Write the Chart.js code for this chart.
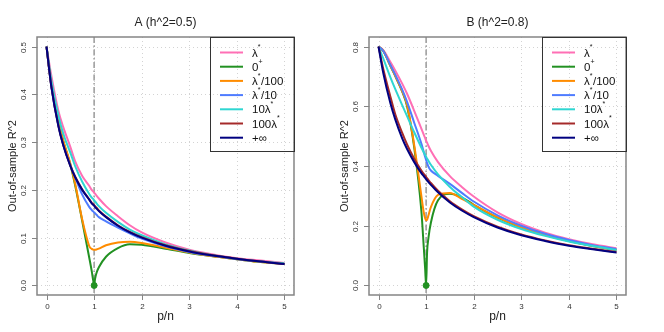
<!DOCTYPE html>
<html>
<head>
<meta charset="utf-8">
<script src="https://cdn.jsdelivr.net/npm/chart.js@4"></script>
<style>
  body { margin: 0; background: #fff; }
  .wrap { display: flex; width: 664px; height: 332px; }
  canvas { display: block; }
</style>
</head>
<body>
<div class="wrap">
  <canvas id="chartA" width="332" height="332"></canvas>
  <canvas id="chartB" width="332" height="332"></canvas>
</div>
<script>
const ratio = [0, 0.1, 0.25, 0.35, 0.5, 0.6, 0.75, 0.9, 0.95, 0.98, 1, 1.02, 1.05, 1.1, 1.25, 1.5, 1.75, 2, 2.5, 3, 3.5, 4, 4.5, 5];
const xTicks = [0, 1, 2, 3, 4, 5];
const threshold = 1;

// panel A (h^2 = 0.5)
const optA = [0.5, 0.44, 0.365, 0.332, 0.29, 0.26, 0.229, 0.208, 0.2, 0.197, 0.194, 0.192, 0.188, 0.182, 0.166, 0.145, 0.126, 0.111, 0.09, 0.075, 0.065, 0.057, 0.052, 0.047];
const zeroA = [0.5, 0.42, 0.345, 0.303, 0.253, 0.21, 0.135, 0.057, 0.03, 0.011, 0, 0.014, 0.026, 0.038, 0.06, 0.078, 0.086, 0.085, 0.077, 0.068, 0.061, 0.055, 0.049, 0.045];
const hundredthA = [0.5, 0.42, 0.345, 0.304, 0.255, 0.214, 0.138, 0.082, 0.0765, 0.075, 0.0748, 0.0748, 0.0752, 0.077, 0.084, 0.09, 0.0915, 0.089, 0.079, 0.069, 0.061, 0.055, 0.049, 0.045];
const tenthA = [0.5, 0.418, 0.335, 0.295, 0.252, 0.227, 0.19, 0.164, 0.158, 0.155, 0.153, 0.151, 0.148, 0.143, 0.134, 0.121, 0.109, 0.098, 0.082, 0.07, 0.062, 0.055, 0.05, 0.045];
const tenfoldA = [0.5, 0.43, 0.355, 0.318, 0.278, 0.25, 0.217, 0.191, 0.184, 0.181, 0.178, 0.176, 0.172, 0.166, 0.152, 0.133, 0.117, 0.105, 0.086, 0.073, 0.063, 0.056, 0.05, 0.046];
const hundredfoldA = [0.5, 0.418, 0.334, 0.295, 0.251, 0.228, 0.201, 0.18, 0.173, 0.17, 0.168, 0.166, 0.163, 0.157, 0.144, 0.126, 0.112, 0.101, 0.084, 0.072, 0.063, 0.056, 0.05, 0.045];
const infA = [0.5, 0.417, 0.333, 0.294, 0.25, 0.227, 0.2, 0.179, 0.172, 0.169, 0.167, 0.164, 0.161, 0.156, 0.143, 0.125, 0.111, 0.1, 0.083, 0.071, 0.0625, 0.056, 0.05, 0.045];
const yTicksA = [0, 0.1, 0.2, 0.3, 0.4, 0.5];

// panel B (h^2 = 0.8)
const optB = [0.8, 0.788, 0.748, 0.72, 0.675, 0.642, 0.585, 0.525, 0.505, 0.493, 0.485, 0.478, 0.467, 0.451, 0.413, 0.366, 0.33, 0.298, 0.245, 0.206, 0.177, 0.155, 0.138, 0.125];
const zeroB = [0.8, 0.785, 0.735, 0.702, 0.648, 0.6, 0.462, 0.25, 0.13, 0.055, 0, 0.11, 0.16, 0.21, 0.285, 0.307, 0.295, 0.27, 0.227, 0.194, 0.169, 0.149, 0.132, 0.119];
const hundredthB = [0.8, 0.785, 0.736, 0.703, 0.65, 0.605, 0.47, 0.3, 0.245, 0.225, 0.218, 0.22, 0.235, 0.262, 0.303, 0.31, 0.29, 0.27, 0.228, 0.195, 0.17, 0.15, 0.133, 0.12];
const tenthB = [0.8, 0.785, 0.738, 0.706, 0.655, 0.615, 0.545, 0.475, 0.447, 0.43, 0.42, 0.41, 0.397, 0.385, 0.367, 0.34, 0.31, 0.281, 0.235, 0.2, 0.173, 0.152, 0.135, 0.122];
const tenfoldB = [0.8, 0.76, 0.697, 0.658, 0.603, 0.567, 0.513, 0.462, 0.446, 0.437, 0.431, 0.425, 0.417, 0.404, 0.372, 0.33, 0.296, 0.264, 0.22, 0.189, 0.166, 0.147, 0.132, 0.119];
const hundredfoldB = [0.8, 0.725, 0.632, 0.574, 0.51, 0.472, 0.424, 0.385, 0.374, 0.368, 0.363, 0.359, 0.353, 0.343, 0.317, 0.282, 0.255, 0.232, 0.197, 0.171, 0.151, 0.135, 0.123, 0.112];
const infB = [0.8, 0.711, 0.61, 0.557, 0.492, 0.457, 0.413, 0.376, 0.366, 0.36, 0.356, 0.352, 0.346, 0.337, 0.312, 0.278, 0.251, 0.229, 0.194, 0.168, 0.149, 0.133, 0.121, 0.11];
const yTicksB = [0, 0.2, 0.4, 0.6, 0.8];

// legend labels: pieces of [text, superscript?]
const legendLabels = [
  [["λ"], ["*", 1]],
  [["0"], ["+", 1]],
  [["λ"], ["*", 1], ["/100"]],
  [["λ"], ["*", 1], ["/10"]],
  [["10λ"], ["*", 1]],
  [["100λ"], ["*", 1]],
  [["+∞"]],
];
const colors = ["#ff6fb5", "#229122", "#ff8c00", "#4f7cff", "#2fd6d2", "#a52a2a", "#000080"];

const FONT = '"Liberation Sans", Arial, sans-serif';

const rAxes = {
  id: "rAxes",
  beforeDatasetsDraw(chart, args, opts) {
    const { ctx, chartArea: a, scales: { x, y } } = chart;
    ctx.save();
    ctx.strokeStyle = "#d3d3d3";
    ctx.lineWidth = 1;
    ctx.setLineDash([1, 3]);
    xTicks.forEach((v) => {
      const px = Math.round(x.getPixelForValue(v)) + 0.5;
      ctx.beginPath(); ctx.moveTo(px, a.top); ctx.lineTo(px, a.bottom); ctx.stroke();
    });
    opts.yTicks.forEach((v) => {
      const py = Math.round(y.getPixelForValue(v)) + 0.5;
      ctx.beginPath(); ctx.moveTo(a.left, py); ctx.lineTo(a.right, py); ctx.stroke();
    });
    // dash-dot line at p/n = 1
    const px = x.getPixelForValue(threshold);
    ctx.strokeStyle = "#9a9a9a";
    ctx.lineWidth = 1.5;
    ctx.setLineDash([6, 2.5, 1.5, 2.5]);
    ctx.beginPath(); ctx.moveTo(px, a.top); ctx.lineTo(px, a.bottom); ctx.stroke();
    ctx.restore();
  },
  afterDraw(chart, args, opts) {
    const { ctx, chartArea: a, scales: { x, y } } = chart;
    ctx.save();
    // frame
    ctx.strokeStyle = "#858585";
    ctx.lineWidth = 1.5;
    ctx.strokeRect(a.left, a.top, a.right - a.left, a.bottom - a.top);
    // ticks
    ctx.lineWidth = 1;
    ctx.fillStyle = "#333";
    ctx.font = "8px " + FONT;
    ctx.textAlign = "center";
    ctx.textBaseline = "middle";
    xTicks.forEach((v) => {
      const px = Math.round(x.getPixelForValue(v)) + 0.5;
      ctx.beginPath(); ctx.moveTo(px, a.bottom); ctx.lineTo(px, a.bottom + 5); ctx.stroke();
      ctx.fillText(String(v), px, a.bottom + 12);
    });
    opts.yTicks.forEach((v) => {
      const py = Math.round(y.getPixelForValue(v)) + 0.5;
      ctx.beginPath(); ctx.moveTo(a.left, py); ctx.lineTo(a.left - 5, py); ctx.stroke();
      ctx.save();
      ctx.translate(a.left - 13, py);
      ctx.rotate(-Math.PI / 2);
      ctx.fillText(v.toFixed(1), 0, 0);
      ctx.restore();
    });
    // titles
    const cx = (a.left + a.right) / 2;
    ctx.fillStyle = "#222";
    ctx.font = "12px " + FONT;
    ctx.fillText(opts.title, cx, 23);
    ctx.fillText("p/n", cx, 317);
    ctx.save();
    ctx.font = "11px " + FONT;
    ctx.translate(13, (a.top + a.bottom) / 2);
    ctx.rotate(-Math.PI / 2);
    ctx.fillText("Out-of-sample R^2", 0, 0);
    ctx.restore();
    // legend
    const lx = a.right - 84, ly = a.top;
    ctx.strokeStyle = "#333";
    ctx.lineWidth = 1;
    ctx.strokeRect(Math.round(lx) + 0.5, Math.round(ly) + 0.5, 84, 114);
    ctx.textAlign = "left";
    legendLabels.forEach((parts, i) => {
      const ry = ly + 15.5 + i * 14.2;
      ctx.strokeStyle = colors[i];
      ctx.lineWidth = 2;
      ctx.beginPath(); ctx.moveTo(lx + 10, ry); ctx.lineTo(lx + 33, ry); ctx.stroke();
      let tx = lx + 42;
      ctx.fillStyle = "#111";
      parts.forEach(([t, sup]) => {
        ctx.font = (sup ? "7px " : "11.5px ") + FONT;
        ctx.fillText(t, tx, sup ? ry - 5 : ry + 1);
        tx += ctx.measureText(t).width + (sup ? 0.5 : 0);
      });
    });
    ctx.restore();
  },
};

function makeChart(id, title, series, yMax, yTicks) {
  const names = ["opt", "zero", "hundredth", "tenth", "tenfold", "hundredfold", "inf"];
  const datasets = series.map((vals, i) => ({
    label: names[i],
    data: ratio.map((r, j) => ({ x: r, y: vals[j] })),
    borderColor: colors[i],
    borderWidth: 2,
    pointRadius: 0,
    fill: false,
    cubicInterpolationMode: "monotone",
    order: series.length - i,
  }));
  // ridgeless point at p/n = 1
  datasets.push({
    label: "cusp",
    data: [{ x: threshold, y: series[1][ratio.indexOf(threshold)] }],
    showLine: false,
    pointRadius: 3,
    pointBackgroundColor: colors[1],
    pointBorderColor: colors[1],
    order: 0,
  });
  const pad = yMax * 0.04;
  return new Chart(document.getElementById(id), {
    type: "line",
    data: { datasets },
    options: {
      responsive: false,
      animation: false,
      layout: { padding: { left: 37, top: 37, right: 38, bottom: 37 } },
      scales: {
        x: { type: "linear", min: -0.2, max: 5.2, display: false },
        y: { min: -pad, max: yMax + pad, display: false },
      },
      plugins: {
        legend: { display: false },
        tooltip: { enabled: false },
        rAxes: { title, yTicks },
      },
    },
    plugins: [rAxes],
  });
}

makeChart("chartA", "A (h^2=0.5)", [optA, zeroA, hundredthA, tenthA, tenfoldA, hundredfoldA, infA], 0.5, yTicksA);
makeChart("chartB", "B (h^2=0.8)", [optB, zeroB, hundredthB, tenthB, tenfoldB, hundredfoldB, infB], 0.8, yTicksB);
</script>
</body>
</html>
